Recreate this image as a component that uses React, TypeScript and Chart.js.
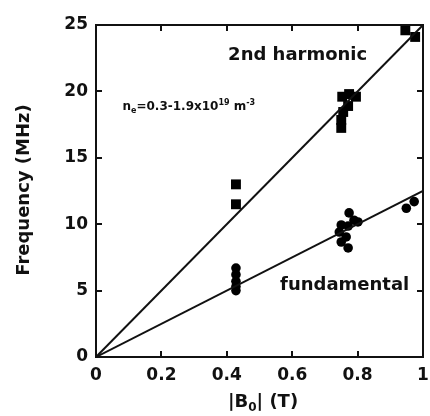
import React, { useEffect, useRef } from "react";
import { Chart, registerables } from "chart.js";

Chart.register(...registerables);

// Data
const harmonicB = [0.428, 0.428, 0.753, 0.774, 0.795, 0.771, 0.756, 0.75, 0.75, 0.946, 0.976];
const harmonicF = [13.0, 11.5, 19.6, 19.8, 19.6, 18.9, 18.45, 17.85, 17.25, 24.6, 24.1];

const fundamentalB = [0.428, 0.428, 0.428, 0.428, 0.428, 0.774, 0.75, 0.771, 0.801, 0.789, 0.744, 0.765, 0.75, 0.771, 0.949, 0.973];
const fundamentalF = [6.7, 6.2, 5.7, 5.3, 5.0, 10.85, 9.94, 9.86, 10.17, 10.3, 9.41, 9.04, 8.66, 8.21, 11.2, 11.7];

const fitB = [0, 1];
const harmonicFit = [0, 25];
const fundamentalFit = [0, 12.5];

const xTickLabels = ["0", "0.2", "0.4", "0.6", "0.8", "1"];
const yTickLabels = ["0", "5", "10", "15", "20", "25"];

const FONT = "'DejaVu Sans', sans-serif";
const INK = "#111";

const framePlugin = {
  id: "frameAndText",
  afterDraw(chart: any) {
    const { ctx, chartArea: a, scales } = chart;
    const xs = scales.x;
    const ys = scales.y;
    ctx.save();
    ctx.strokeStyle = INK;
    ctx.lineWidth = 2;
    ctx.strokeRect(a.left, a.top, a.right - a.left, a.bottom - a.top);
    const tl = 6;
    ctx.beginPath();
    xs.ticks.forEach((t: any) => {
      if (t.value <= xs.min || t.value >= xs.max) return;
      const px = Math.round(xs.getPixelForValue(t.value));
      ctx.moveTo(px, a.bottom);
      ctx.lineTo(px, a.bottom - tl);
      ctx.moveTo(px, a.top);
      ctx.lineTo(px, a.top + tl);
    });
    ys.ticks.forEach((t: any) => {
      if (t.value <= ys.min || t.value >= ys.max) return;
      const py = Math.round(ys.getPixelForValue(t.value));
      ctx.moveTo(a.left, py);
      ctx.lineTo(a.left + tl, py);
      ctx.moveTo(a.right, py);
      ctx.lineTo(a.right - tl, py);
    });
    ctx.stroke();

    ctx.fillStyle = INK;
    // annotations
    ctx.textBaseline = "middle";
    ctx.textAlign = "left";
    ctx.font = `bold 18px ${FONT}`;
    ctx.fillText("2nd harmonic", xs.getPixelForValue(0.404), ys.getPixelForValue(22.7));
    ctx.fillText("fundamental", xs.getPixelForValue(0.563), ys.getPixelForValue(5.4));

    // density label
    ctx.textBaseline = "alphabetic";
    let x = xs.getPixelForValue(0.081);
    const yb = ys.getPixelForValue(18.6);
    const big = `bold 12px ${FONT}`;
    const small = `bold 8px ${FONT}`;
    const put = (s: string, f: string, dy: number) => {
      ctx.font = f;
      ctx.fillText(s, x, yb + dy);
      x += ctx.measureText(s).width;
    };
    put("n", big, 0);
    put("e", small, 3);
    put("=0.3-1.9x10", big, 0);
    put("19", small, -5);
    put(" m", big, 0);
    put("-3", small, -5);

    // y title
    ctx.save();
    ctx.translate(24, 190);
    ctx.rotate(-Math.PI / 2);
    ctx.textAlign = "center";
    ctx.textBaseline = "middle";
    ctx.font = `bold 18px ${FONT}`;
    ctx.fillText("Frequency (MHz)", 0, 0);
    ctx.restore();

    // x title |B0| (T)
    ctx.textAlign = "left";
    ctx.textBaseline = "alphabetic";
    const parts: [string, string, number][] = [
      ["|B", `bold 18px ${FONT}`, 0],
      ["0", `bold 12px ${FONT}`, 4],
      ["| (T)", `bold 18px ${FONT}`, 0],
    ];
    let total = 0;
    parts.forEach(([s, f]) => {
      ctx.font = f;
      total += ctx.measureText(s).width;
    });
    let tx = 263 - total / 2;
    parts.forEach(([s, f, dy]) => {
      ctx.font = f;
      ctx.fillText(s, tx, 407 + dy);
      tx += ctx.measureText(s).width;
    });
    ctx.restore();
  },
};

export default function App() {
  const ref = useRef<HTMLCanvasElement | null>(null);
  useEffect(() => {
    if (!ref.current) return;
    const pts = (xs: number[], ys: number[]) => xs.map((x, i) => ({ x, y: ys[i] }));
    const chart = new Chart(ref.current, {
      type: "scatter",
      data: {
        datasets: [
          {
            label: "2nd harmonic fit",
            data: pts(fitB, harmonicFit),
            showLine: true,
            borderColor: INK,
            borderWidth: 2,
            pointRadius: 0,
          },
          {
            label: "fundamental fit",
            data: pts(fitB, fundamentalFit),
            showLine: true,
            borderColor: INK,
            borderWidth: 2,
            pointRadius: 0,
          },
          {
            label: "2nd harmonic",
            data: pts(harmonicB, harmonicF),
            pointStyle: "rect",
            pointRadius: 7,
            backgroundColor: "#000",
            borderColor: "#000",
            borderWidth: 0,
          },
          {
            label: "fundamental",
            data: pts(fundamentalB, fundamentalF),
            pointStyle: "circle",
            pointRadius: 4.8,
            backgroundColor: "#000",
            borderColor: "#000",
            borderWidth: 0,
          },
        ],
      },
      options: {
        responsive: false,
        animation: false,
        layout: { padding: { top: 25, right: 2, left: 0, bottom: 0 } },
        plugins: {
          legend: { display: false },
          tooltip: { enabled: false },
        },
        scales: {
          x: {
            type: "linear",
            min: 0,
            max: 1,
            grid: { display: false, drawTicks: false },
            border: { display: false },
            ticks: {
              stepSize: 0.2,
              padding: 8,
              color: INK,
              font: { family: FONT, size: 17, weight: "bold" },
              maxRotation: 0,
              callback: (_v: any, i: number) => xTickLabels[i],
            },
            afterFit: (s: any) => {
              s.height = 59;
              s.paddingLeft = 0;
              s.paddingRight = 0;
            },
          },
          y: {
            type: "linear",
            min: 0,
            max: 25,
            grid: { display: false, drawTicks: false },
            border: { display: false },
            ticks: {
              stepSize: 5,
              padding: 8,
              color: INK,
              font: { family: FONT, size: 17, weight: "bold" },
              callback: (_v: any, i: number) => yTickLabels[i],
            },
            afterFit: (s: any) => {
              s.width = 96;
              s.paddingTop = 0;
              s.paddingBottom = 0;
            },
          },
        },
      },
      plugins: [framePlugin],
    } as any);
    return () => chart.destroy();
  }, []);
  return (
    <div style={{ position: "absolute", left: 0, top: 0, width: 430, height: 416, background: "#fff" }}>
      <canvas ref={ref} width={430} height={416} />
    </div>
  );
}
